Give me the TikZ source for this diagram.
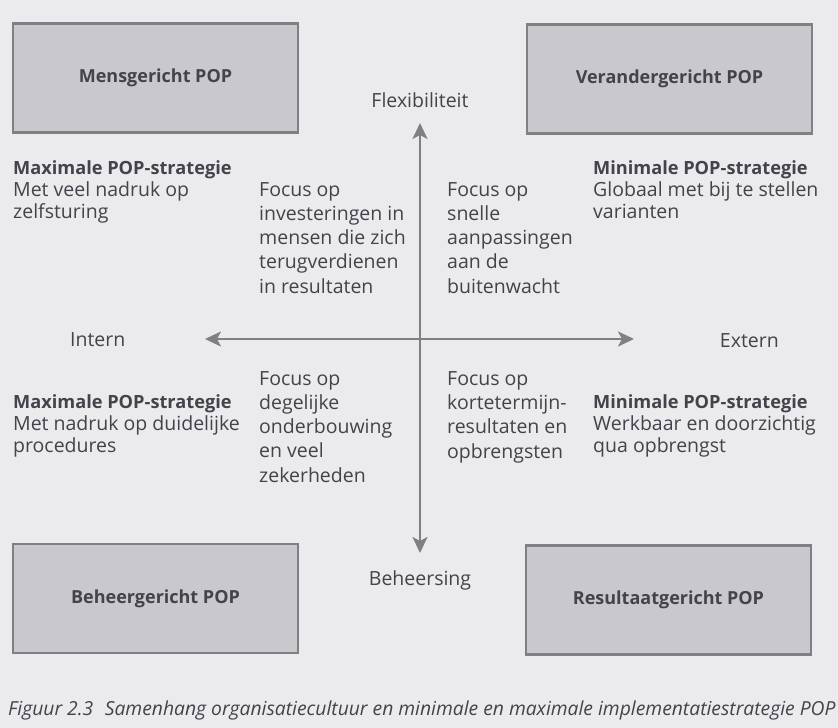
\documentclass[tikz,border=0pt]{standalone}
\usepackage{fontspec}
\setmainfont{Open Sans}
\usetikzlibrary{arrows.meta}
\definecolor{pagebg}{RGB}{235,234,237}
\definecolor{boxfill}{RGB}{201,200,205}
\definecolor{boxline}{RGB}{128,127,133}
\definecolor{ink}{RGB}{68,66,74}
\definecolor{axisgray}{RGB}{128,128,132}
% bold heading inside a strategy text, a little smaller than the body
\newcommand{\strathead}[1]{{\bfseries\fontsize{18.2}{22}\selectfont #1}}
\tikzset{
  quadbox/.style={draw=boxline, fill=boxfill, line width=2.3pt, minimum width=285pt,
    minimum height=109pt, inner sep=0pt, font=\bfseries\fontsize{18}{22}\selectfont, text=ink},
  axislabel/.style={font=\fontsize{19.5}{22}\selectfont, text=ink, inner sep=0pt},
  % multi-line texts: the base anchor sits on the last line
  blurb/.style={font=\fontsize{19.5}{22}\selectfont, text=ink, align=left, inner sep=0pt, anchor=base west},
  focus/.style={font=\fontsize{19.5}{24.2}\selectfont, text=ink, align=left, inner sep=0pt, anchor=base west},
  axisline/.style={draw=axisgray, line width=2.4pt,
    -{Stealth[length=16pt, width=15pt, inset=4pt]}}
}
\begin{document}
\begin{tikzpicture}[x=1pt, y=-1pt]
  % page
  \fill[pagebg] (0,0) rectangle (838,728);
  \useasboundingbox (0,0) rectangle (838,728);

  % four corner boxes
  \node[quadbox] (mens) at (155.5,78) {Mensgericht POP};
  \node[quadbox] (verander) at (669.5,79) {Verandergericht POP};
  \node[quadbox] (beheer) at (155.5,598.5) {Beheergericht POP};
  \node[quadbox] (resultaat) at (668.5,600) {Resultaatgericht POP};

  % axes
  \coordinate (c) at (420,339);
  \coordinate (top) at (420,123);
  \coordinate (bot) at (420,553);
  \coordinate (lft) at (205,339);
  \coordinate (rgt) at (634,339);
  \draw[axisline] (c) -- (top);
  \draw[axisline] (c) -- (bot);
  \draw[axisline] (c) -- (lft);
  \draw[axisline] (c) -- (rgt);

  % axis labels
  \node[axislabel] (flex) at (420,100) {Flexibiliteit};
  \node[axislabel] (beheersing) at (420,580) {Beheersing};
  \node[axislabel, anchor=west] (intern) at (70,340) {Intern};
  \node[axislabel, anchor=east] (extern) at (779,341) {Extern};

  % strategy texts
  \node[blurb] (maxtop) at (13,218) {\strathead{Maximale POP-strategie}\\Met veel nadruk op\\zelfsturing};
  \node[blurb] (mintop) at (593,218) {\strathead{Minimale POP-strategie}\\Globaal met bij te stellen\\varianten};
  \node[blurb] (maxbot) at (13,452) {\strathead{Maximale POP-strategie}\\Met nadruk op duidelijke\\procedures};
  \node[blurb] (minbot) at (593,452) {\strathead{Minimale POP-strategie}\\Werkbaar en doorzichtig\\qua opbrengst};

  % quadrant focus texts
  \node[focus] (q1) at (259,293) {Focus op\\investeringen in\\mensen die zich\\terugverdienen\\in resultaten};
  \node[focus] (q2) at (447,293) {Focus op\\snelle\\aanpassingen\\aan de\\buitenwacht};
  \node[focus] (q3) at (259,482) {Focus op\\degelijke\\onderbouwing\\en veel\\zekerheden};
  \node[focus] (q4) at (447,458) {Focus op\\kortetermijn-\\resultaten en\\opbrengsten};

  % caption
  \node[font=\itshape\fontsize{19.3}{22}\selectfont, text=ink, anchor=base west, inner sep=0pt]
    (caption) at (8,715) {Figuur 2.3\hspace{0.6em}Samenhang organisatiecultuur en minimale en maximale implementatiestrategie POP};
\end{tikzpicture}
\end{document}
